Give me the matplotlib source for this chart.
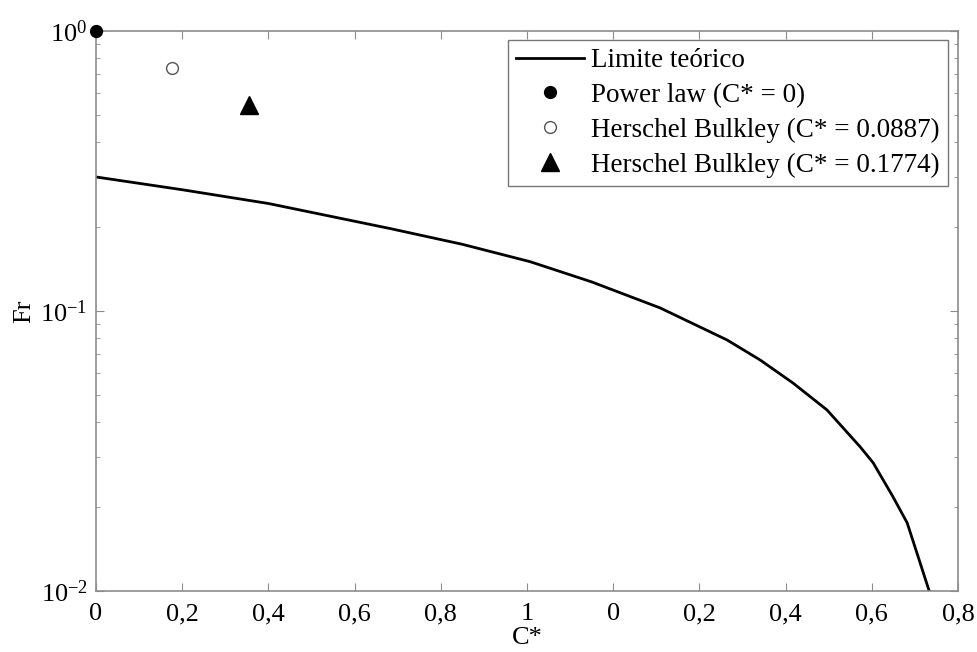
import numpy as np
import matplotlib
matplotlib.use('Agg')
import matplotlib.pyplot as plt

plt.rcParams['font.family'] = ['Liberation Serif', 'DejaVu Serif']
plt.rcParams['mathtext.fontset'] = 'custom'
plt.rcParams['mathtext.rm'] = 'Liberation Serif'
plt.rcParams['mathtext.it'] = 'Liberation Serif:italic'

# Theoretical limit curve, read point by point
c_lim = [0.0, 0.2, 0.4, 0.682, 0.85, 1.007, 1.15, 1.309, 1.464, 1.541,
         1.617, 1.696, 1.773, 1.803, 1.849, 1.882, 1.912, 1.933]
fr_lim = [0.301, 0.271, 0.242, 0.197, 0.173, 0.150, 0.127, 0.1025, 0.0788,
          0.0668, 0.0553, 0.0443, 0.0327, 0.0287, 0.0217, 0.0175, 0.0126,
          0.0100]

# Model results
c_pl, fr_pl = [0.0], [1.0]
c_hb1, fr_hb1 = [0.176], [0.738]
c_hb2, fr_hb2 = [0.355], [0.544]

xticks = [0.0, 0.2, 0.4, 0.6, 0.8, 1.0, 1.2, 1.4, 1.6, 1.8, 2.0]
xticklabels = ['0', '0,2', '0,4', '0,6', '0,8', '1',
               '0', '0,2', '0,4', '0,6', '0,8']

fs = 19

fig = plt.figure(figsize=(9.78, 6.52), dpi=100)
ax = fig.add_axes([0.0982, 0.0936, 0.8814, 0.8589])

ax.plot(c_lim, fr_lim, '-', color='black', lw=2.0, label='Limite teórico')
ax.plot(c_pl, fr_pl, 'o', color='black', ms=8.5, clip_on=False, zorder=5,
        label='Power law (C* = 0)')
ax.plot(c_hb1, fr_hb1, 'o', mfc='white', mec='#555555', mew=1.0, ms=8.5,
        label='Herschel Bulkley (C* = 0.0887)')
ax.plot(c_hb2, fr_hb2, '^', color='black', ms=13,
        label='Herschel Bulkley (C* = 0.1774)')

ax.set_yscale('log')
ax.set_xlim(0, 2.0)
ax.set_ylim(1e-2, 1e0)
ax.set_xticks(xticks)
ax.set_xticklabels(xticklabels)
ax.set_yticks([1e-2, 1e-1, 1e0])
ax.set_yticklabels([r'$\mathregular{10^{-2}}$', r'$\mathregular{10^{-1}}$',
                    r'$\mathregular{10^{0}}$'])

for s in ax.spines.values():
    s.set_color('#8c8c8c')
    s.set_linewidth(1.2)
ax.tick_params(which='both', direction='in', top=True, right=True,
               color='#8c8c8c', labelsize=fs)
ax.tick_params(axis='x', pad=9)
ax.tick_params(axis='y', pad=6)
ax.tick_params(which='major', length=6)
ax.tick_params(which='minor', length=3)

ax.set_xlabel('C*', fontsize=fs, labelpad=1)
ax.set_ylabel('Fr', fontsize=fs, labelpad=4)

leg = ax.legend(loc='upper right', bbox_to_anchor=(0.988, 0.984),
                fontsize=19.5, frameon=True, fancybox=False, borderaxespad=0,
                handlelength=2.5, handletextpad=0.25, labelspacing=0.36,
                borderpad=0.3)
leg.get_frame().set_edgecolor('#555555')
leg.get_frame().set_linewidth(1.0)

fig.savefig('out.png', dpi=100)
